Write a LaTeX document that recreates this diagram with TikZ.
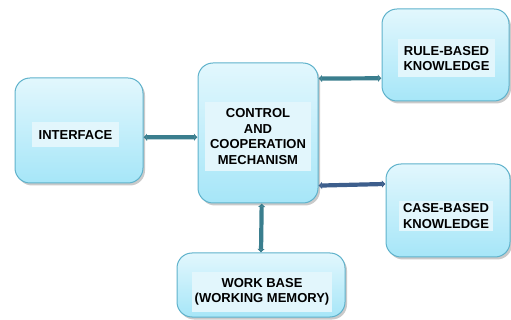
\documentclass[tikz,border=0pt]{standalone}
\usepackage{fontspec}
\setmainfont{Liberation Sans}
\usetikzlibrary{shadows,arrows.meta}
\definecolor{boxtop}{HTML}{E2F7FD}
\definecolor{boxbot}{HTML}{A6E6F8}
\definecolor{boxline}{HTML}{5FB2CB}
\definecolor{labelbg}{HTML}{E2F6FC}
\definecolor{linkteal}{HTML}{3A7E8E}
\definecolor{linkblue}{HTML}{3D5E8C}
\tikzset{
  module/.style={draw=boxline, line width=1pt, rounded corners=15pt,
    top color=boxtop, bottom color=boxbot,
    drop shadow={shadow xshift=2pt, shadow yshift=-2.5pt, opacity=0.35, fill=black!60},
    inner sep=0pt},
  caption/.style={fill=labelbg, inner sep=0pt, align=center,
    font=\fontsize{13}{15.5}\selectfont\bfseries, text=black},
  link/.style={draw=linkteal, line width=4.2pt,
    {Latex[length=3.5pt,width=8pt]}-{Latex[length=3.5pt,width=8pt]}},
}
\begin{document}
\begin{tikzpicture}[x=1pt,y=-1pt]
\useasboundingbox (0,0) rectangle (511,320);

% modules
\node[module, minimum width=128pt, minimum height=105pt] (interface) at (79,130.5) {};
\node[module, minimum width=120pt, minimum height=140pt] (control) at (258,133) {};
\node[module, minimum width=127pt, minimum height=92pt] (rule) at (445.5,55) {};
\node[module, minimum width=124pt, minimum height=93pt] (case) at (448,210.5) {};
\node[module, minimum width=168pt, minimum height=64pt] (work) at (261,285) {};

% captions
\node[caption, minimum width=87pt, minimum height=25pt] (interfacetxt) at (75.5,135) {INTERFACE};
\node[caption, minimum width=106pt, minimum height=69pt] (controltxt) at (258,136.5)
  {CONTROL\\AND\\COOPERATION\\MECHANISM};
\node[caption, minimum width=97pt, minimum height=38pt] (ruletxt) at (446.5,58.5)
  {RULE-BASED\\KNOWLEDGE};
\node[caption, minimum width=94pt, minimum height=30pt] (casetxt) at (446,216)
  {CASE-BASED\\KNOWLEDGE};
\node[caption, minimum width=140pt, minimum height=39pt] (worktxt) at (262,292)
  {WORK BASE\\(WORKING MEMORY)};

% connectors
\draw[link] (interface.-6) -- (control.184);
\draw[link] (control.42.5) -- (rule.200);
\draw[link, draw=linkblue] (control.-41) -- (case.157.6);
\draw[link] (control.-87.5) -- (work.north);
\end{tikzpicture}
\end{document}
